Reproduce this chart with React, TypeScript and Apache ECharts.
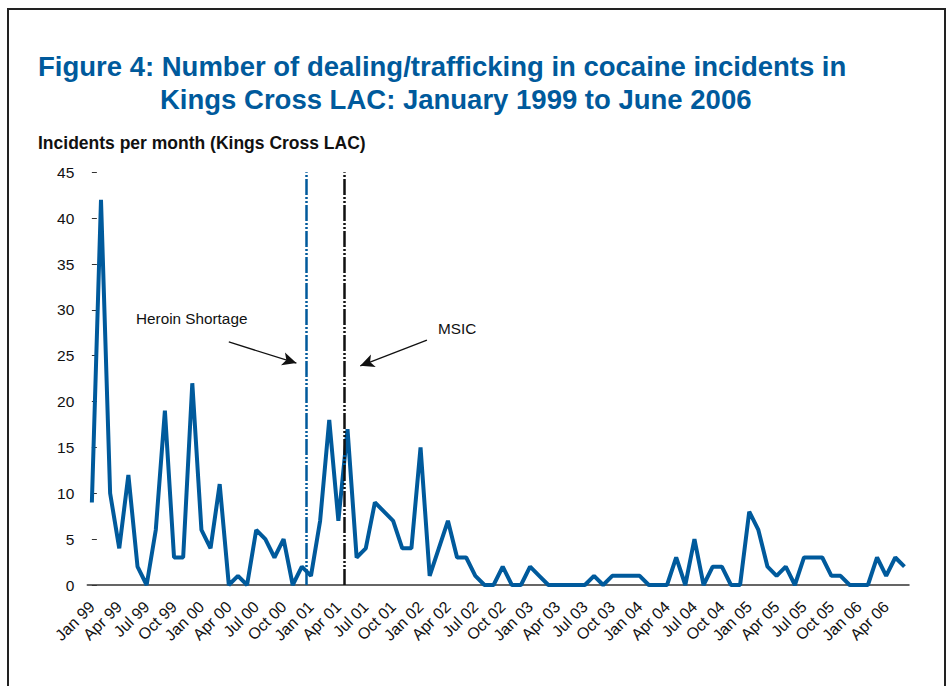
import React, { useEffect, useRef } from "react";
import * as echarts from "echarts";

const monthNames = ["Jan", "Feb", "Mar", "Apr", "May", "Jun", "Jul", "Aug", "Sep", "Oct", "Nov", "Dec"];
const years = ["99", "00", "01", "02", "03", "04", "05", "06"];
const categories: string[] = [];
years.forEach((y, yi) => {
  monthNames.forEach((m, mi) => {
    if (yi === years.length - 1 && mi > 5) return;
    categories.push(`${m} ${y}`);
  });
});

const incidents = [
  9, 42, 10, 4, 12, 2, 0, 6, 19, 3, 3, 22,
  6, 4, 11, 0, 1, 0, 6, 5, 3, 5, 0, 2,
  1, 7, 18, 7, 17, 3, 4, 9, 8, 7, 4, 4,
  15, 1, 4, 7, 3, 3, 1, 0, 0, 2, 0, 0,
  2, 1, 0, 0, 0, 0, 0, 1, 0, 1, 1, 1,
  1, 0, 0, 0, 3, 0, 5, 0, 2, 2, 0, 0,
  8, 6, 2, 1, 2, 0, 3, 3, 3, 1, 1, 0,
  0, 0, 3, 1, 3, 2,
];

const yTicks = { min: 0, max: 45, interval: 5 };

// event positions on a month index scale (0 = Jan 99)
const heroinShortageX = 23.5;
const msicX = 27.6;
const heroinArrow = [[15.0, 26.5], [22.4, 24.2]];
const msicArrow = [[36.7, 26.7], [29.4, 23.9]];

const BLUE = "#005a9c";
const FONT = "'Liberation Sans', Arial, sans-serif";

export default function App() {
  const ref = useRef<HTMLDivElement>(null);
  useEffect(() => {
    if (!ref.current) return;
    const chart = echarts.init(ref.current, undefined, { renderer: "svg" });
    chart.setOption({
      animation: false,
      backgroundColor: "#fff",
      textStyle: { fontFamily: FONT },
      grid: { left: 87.3, right: 42, top: 172.3, bottom: 101, containLabel: false },
      graphic: [
        {
          type: "rect",
          shape: { x: 8, y: 9, width: 937, height: 700 },
          style: { fill: "none", stroke: "#222", lineWidth: 2 },
          silent: true,
        },
        {
          type: "text",
          left: 38,
          top: 52,
          style: {
            text: "Figure 4: Number of dealing/trafficking in cocaine incidents in",
            fill: BLUE,
            fontFamily: FONT,
            fontWeight: "bold",
            fontSize: 27.5,
          },
        },
        {
          type: "text",
          left: 160,
          top: 85,
          style: {
            text: "Kings Cross LAC: January 1999 to June 2006",
            fill: BLUE,
            fontFamily: FONT,
            fontWeight: "bold",
            fontSize: 27.5,
          },
        },
        {
          type: "text",
          left: 38,
          top: 134,
          style: {
            text: "Incidents per month (Kings Cross LAC)",
            fill: "#111",
            fontFamily: FONT,
            fontWeight: "bold",
            fontSize: 17.5,
          },
        },
        {
          type: "text",
          left: 136,
          top: 311,
          style: { text: "Heroin Shortage", fill: "#111", fontFamily: FONT, fontSize: 15.3 },
        },
        {
          type: "text",
          left: 438,
          top: 321,
          style: { text: "MSIC", fill: "#111", fontFamily: FONT, fontSize: 15.3 },
        },
      ],
      xAxis: [
        {
          type: "category",
          data: categories,
          boundaryGap: true,
          axisLine: { lineStyle: { color: "#333", width: 1.5 } },
          axisTick: { interval: 2, inside: true, length: 4, lineStyle: { color: "#333" } },
          axisLabel: {
            interval: 2,
            rotate: 45,
            fontSize: 16,
            color: "#111",
            margin: 19,
            fontFamily: FONT,
          },
          splitLine: { show: false },
        },
        {
          type: "value",
          min: -0.5,
          max: categories.length - 0.5,
          show: false,
        },
      ],
      yAxis: {
        type: "value",
        min: yTicks.min,
        max: yTicks.max,
        interval: yTicks.interval,
        axisLine: { show: false },
        axisTick: { show: true, inside: true, length: 5, lineStyle: { color: "#333" } },
        axisLabel: { fontSize: 15.5, color: "#111", margin: 13, fontFamily: FONT },
        splitLine: { show: false },
      },
      series: [
        {
          type: "line",
          data: incidents,
          symbol: "none",
          lineStyle: { color: BLUE, width: 4 },
          z: 3,
        },
        {
          type: "line",
          xAxisIndex: 1,
          data: [],
          symbol: "none",
          silent: true,
          markLine: {
            silent: true,
            animation: false,
            label: { show: false },
            data: [
              [
                { coord: [heroinShortageX, 0], symbol: "none", lineStyle: { color: BLUE, width: 2.5, type: [16, 2, 2, 2, 2, 2] } },
                { coord: [heroinShortageX, 45], symbol: "none" },
              ],
              [
                { coord: [msicX, 0], symbol: "none", lineStyle: { color: "#111", width: 2.5, type: [16, 2, 2, 2, 2, 2] } },
                { coord: [msicX, 45], symbol: "none" },
              ],
              [
                { coord: heroinArrow[0], symbol: "none", lineStyle: { color: "#111", width: 1.3, type: "solid" } },
                { coord: heroinArrow[1], symbol: "arrow", symbolSize: [10, 14] },
              ],
              [
                { coord: msicArrow[0], symbol: "none", lineStyle: { color: "#111", width: 1.3, type: "solid" } },
                { coord: msicArrow[1], symbol: "arrow", symbolSize: [10, 14] },
              ],
            ],
          },
        },
      ],
    });
    return () => chart.dispose();
  }, []);
  return <div ref={ref} style={{ width: 951, height: 686, position: "absolute", left: 0, top: 0 }} />;
}
